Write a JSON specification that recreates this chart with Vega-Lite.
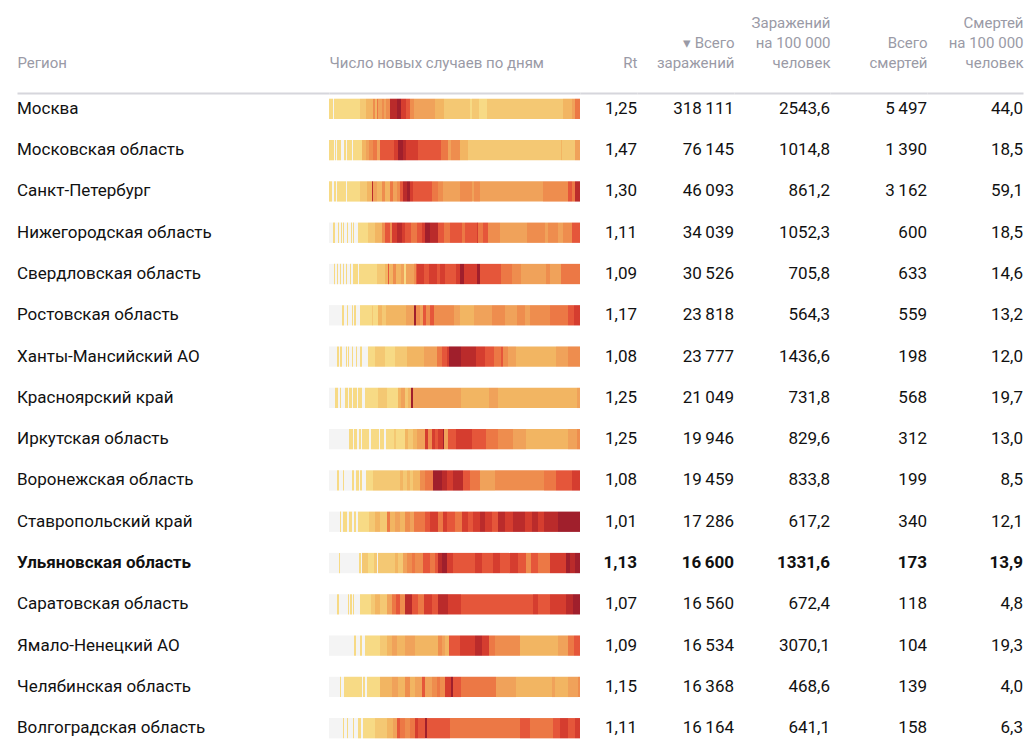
{
  "$schema": "https://vega.github.io/schema/vega-lite/v6.json",
  "background": "white",
  "padding": {"left": 17, "top": 15, "right": 7, "bottom": 0},
  "spacing": 0,
  "bounds": "flush",
  "config": {
    "view": {"stroke": null},
    "locale": {"number": {"decimal": ",", "thousands": "\u2009", "grouping": [3], "currency": ["", ""]}},
    "text": {"font": "Roboto", "fontSize": 17, "color": "#111111", "baseline": "middle"},
    "axis": {"domain": true, "domainColor": "#d6d6dc", "domainWidth": 2, "ticks": false, "labels": false, "grid": false,
      "titleFont": "Roboto", "titleFontSize": 15, "titleFontWeight": "normal", "titleColor": "#9a9aa6", "titleLineHeight": 20, "titlePadding": 23}
  },
  "datasets": {
    "table": [
      {"i": 1, "region": "Москва", "rt": 1.25, "cases": 318111, "cases100k": 2543.6, "deaths": 5497, "deaths100k": 44.0},
      {"i": 2, "region": "Московская область", "rt": 1.47, "cases": 76145, "cases100k": 1014.8, "deaths": 1390, "deaths100k": 18.5},
      {"i": 3, "region": "Санкт-Петербург", "rt": 1.30, "cases": 46093, "cases100k": 861.2, "deaths": 3162, "deaths100k": 59.1},
      {"i": 4, "region": "Нижегородская область", "rt": 1.11, "cases": 34039, "cases100k": 1052.3, "deaths": 600, "deaths100k": 18.5},
      {"i": 5, "region": "Свердловская область", "rt": 1.09, "cases": 30526, "cases100k": 705.8, "deaths": 633, "deaths100k": 14.6},
      {"i": 6, "region": "Ростовская область", "rt": 1.17, "cases": 23818, "cases100k": 564.3, "deaths": 559, "deaths100k": 13.2},
      {"i": 7, "region": "Ханты-Мансийский АО", "rt": 1.08, "cases": 23777, "cases100k": 1436.6, "deaths": 198, "deaths100k": 12.0},
      {"i": 8, "region": "Красноярский край", "rt": 1.25, "cases": 21049, "cases100k": 731.8, "deaths": 568, "deaths100k": 19.7},
      {"i": 9, "region": "Иркутская область", "rt": 1.25, "cases": 19946, "cases100k": 829.6, "deaths": 312, "deaths100k": 13.0},
      {"i": 10, "region": "Воронежская область", "rt": 1.08, "cases": 19459, "cases100k": 833.8, "deaths": 199, "deaths100k": 8.5},
      {"i": 11, "region": "Ставропольский край", "rt": 1.01, "cases": 17286, "cases100k": 617.2, "deaths": 340, "deaths100k": 12.1},
      {"i": 12, "region": "Ульяновская область", "rt": 1.13, "cases": 16600, "cases100k": 1331.6, "deaths": 173, "deaths100k": 13.9},
      {"i": 13, "region": "Саратовская область", "rt": 1.07, "cases": 16560, "cases100k": 672.4, "deaths": 118, "deaths100k": 4.8},
      {"i": 14, "region": "Ямало-Ненецкий АО", "rt": 1.09, "cases": 16534, "cases100k": 3070.1, "deaths": 104, "deaths100k": 19.3},
      {"i": 15, "region": "Челябинская область", "rt": 1.15, "cases": 16368, "cases100k": 468.6, "deaths": 139, "deaths100k": 4.0},
      {"i": 16, "region": "Волгоградская область", "rt": 1.11, "cases": 16164, "cases100k": 641.1, "deaths": 158, "deaths100k": 6.3}
    ],
    "strips": [
      {"i":1,"s":0,"e":4,"v":1},{"i":1,"s":4,"e":5,"v":0},{"i":1,"s":5,"e":31,"v":1},{"i":1,"s":31,"e":37,"v":2},{"i":1,"s":37,"e":44,"v":3},{"i":1,"s":44,"e":46,"v":5},{"i":1,"s":46,"e":48,"v":3},{"i":1,"s":48,"e":49,"v":6},{"i":1,"s":49,"e":53,"v":4},{"i":1,"s":53,"e":55,"v":5},{"i":1,"s":55,"e":57,"v":4},{"i":1,"s":57,"e":61,"v":5},{"i":1,"s":61,"e":68,"v":9},{"i":1,"s":68,"e":72,"v":10},{"i":1,"s":72,"e":77,"v":8},{"i":1,"s":77,"e":81,"v":7},{"i":1,"s":81,"e":85,"v":5},{"i":1,"s":85,"e":106,"v":4},{"i":1,"s":106,"e":115,"v":3},{"i":1,"s":115,"e":141,"v":2},{"i":1,"s":141,"e":143,"v":1},{"i":1,"s":143,"e":150,"v":2},{"i":1,"s":150,"e":158,"v":1},{"i":1,"s":158,"e":234,"v":2},{"i":1,"s":234,"e":243,"v":3},{"i":1,"s":243,"e":246,"v":4},{"i":1,"s":246,"e":251,"v":6},
      {"i":2,"s":0,"e":5,"v":1},{"i":2,"s":5,"e":6,"v":0},{"i":2,"s":6,"e":7,"v":1},{"i":2,"s":7,"e":8,"v":0},{"i":2,"s":8,"e":12,"v":1},{"i":2,"s":12,"e":15,"v":0},{"i":2,"s":15,"e":17,"v":1},{"i":2,"s":17,"e":18,"v":0},{"i":2,"s":18,"e":23,"v":1},{"i":2,"s":23,"e":24,"v":0},{"i":2,"s":24,"e":33,"v":1},{"i":2,"s":33,"e":37,"v":3},{"i":2,"s":37,"e":40,"v":4},{"i":2,"s":40,"e":44,"v":5},{"i":2,"s":44,"e":48,"v":6},{"i":2,"s":48,"e":51,"v":4},{"i":2,"s":51,"e":65,"v":7},{"i":2,"s":65,"e":69,"v":8},{"i":2,"s":69,"e":74,"v":10},{"i":2,"s":74,"e":77,"v":9},{"i":2,"s":77,"e":89,"v":8},{"i":2,"s":89,"e":112,"v":7},{"i":2,"s":112,"e":119,"v":6},{"i":2,"s":119,"e":122,"v":4},{"i":2,"s":122,"e":131,"v":5},{"i":2,"s":131,"e":139,"v":3},{"i":2,"s":139,"e":232,"v":2},{"i":2,"s":232,"e":233,"v":3},{"i":2,"s":233,"e":246,"v":2},{"i":2,"s":246,"e":251,"v":4},
      {"i":3,"s":0,"e":3,"v":1},{"i":3,"s":3,"e":5,"v":0},{"i":3,"s":5,"e":7,"v":1},{"i":3,"s":7,"e":8,"v":0},{"i":3,"s":8,"e":17,"v":1},{"i":3,"s":17,"e":18,"v":0},{"i":3,"s":18,"e":31,"v":1},{"i":3,"s":31,"e":38,"v":2},{"i":3,"s":38,"e":43,"v":3},{"i":3,"s":43,"e":44,"v":9},{"i":3,"s":44,"e":48,"v":4},{"i":3,"s":48,"e":53,"v":3},{"i":3,"s":53,"e":56,"v":5},{"i":3,"s":56,"e":61,"v":3},{"i":3,"s":61,"e":64,"v":6},{"i":3,"s":64,"e":68,"v":4},{"i":3,"s":68,"e":71,"v":5},{"i":3,"s":71,"e":74,"v":7},{"i":3,"s":74,"e":78,"v":9},{"i":3,"s":78,"e":81,"v":10},{"i":3,"s":81,"e":84,"v":8},{"i":3,"s":84,"e":103,"v":7},{"i":3,"s":103,"e":109,"v":6},{"i":3,"s":109,"e":114,"v":5},{"i":3,"s":114,"e":131,"v":4},{"i":3,"s":131,"e":143,"v":5},{"i":3,"s":143,"e":145,"v":4},{"i":3,"s":145,"e":151,"v":5},{"i":3,"s":151,"e":214,"v":4},{"i":3,"s":214,"e":239,"v":5},{"i":3,"s":239,"e":243,"v":7},{"i":3,"s":243,"e":246,"v":6},{"i":3,"s":246,"e":251,"v":9},
      {"i":4,"s":0,"e":4,"v":0},{"i":4,"s":4,"e":6,"v":1},{"i":4,"s":6,"e":9,"v":0},{"i":4,"s":9,"e":10,"v":1},{"i":4,"s":10,"e":12,"v":0},{"i":4,"s":12,"e":13,"v":1},{"i":4,"s":13,"e":14,"v":0},{"i":4,"s":14,"e":15,"v":1},{"i":4,"s":15,"e":18,"v":0},{"i":4,"s":18,"e":19,"v":1},{"i":4,"s":19,"e":22,"v":0},{"i":4,"s":22,"e":23,"v":1},{"i":4,"s":23,"e":24,"v":0},{"i":4,"s":24,"e":25,"v":1},{"i":4,"s":25,"e":29,"v":0},{"i":4,"s":29,"e":39,"v":1},{"i":4,"s":39,"e":46,"v":2},{"i":4,"s":46,"e":53,"v":3},{"i":4,"s":53,"e":56,"v":5},{"i":4,"s":56,"e":61,"v":7},{"i":4,"s":61,"e":63,"v":5},{"i":4,"s":63,"e":68,"v":8},{"i":4,"s":68,"e":73,"v":9},{"i":4,"s":73,"e":76,"v":8},{"i":4,"s":76,"e":82,"v":7},{"i":4,"s":82,"e":88,"v":6},{"i":4,"s":88,"e":93,"v":7},{"i":4,"s":93,"e":96,"v":8},{"i":4,"s":96,"e":101,"v":10},{"i":4,"s":101,"e":109,"v":9},{"i":4,"s":109,"e":115,"v":7},{"i":4,"s":115,"e":121,"v":6},{"i":4,"s":121,"e":133,"v":7},{"i":4,"s":133,"e":136,"v":6},{"i":4,"s":136,"e":148,"v":7},{"i":4,"s":148,"e":149,"v":8},{"i":4,"s":149,"e":154,"v":6},{"i":4,"s":154,"e":159,"v":7},{"i":4,"s":159,"e":171,"v":5},{"i":4,"s":171,"e":198,"v":4},{"i":4,"s":198,"e":216,"v":5},{"i":4,"s":216,"e":219,"v":4},{"i":4,"s":219,"e":229,"v":5},{"i":4,"s":229,"e":234,"v":4},{"i":4,"s":234,"e":243,"v":5},{"i":4,"s":243,"e":251,"v":7},
      {"i":5,"s":0,"e":5,"v":0},{"i":5,"s":5,"e":6,"v":1},{"i":5,"s":6,"e":8,"v":0},{"i":5,"s":8,"e":9,"v":1},{"i":5,"s":9,"e":11,"v":0},{"i":5,"s":11,"e":12,"v":1},{"i":5,"s":12,"e":14,"v":0},{"i":5,"s":14,"e":15,"v":1},{"i":5,"s":15,"e":17,"v":0},{"i":5,"s":17,"e":18,"v":1},{"i":5,"s":18,"e":21,"v":0},{"i":5,"s":21,"e":22,"v":1},{"i":5,"s":22,"e":24,"v":0},{"i":5,"s":24,"e":29,"v":1},{"i":5,"s":29,"e":30,"v":0},{"i":5,"s":30,"e":48,"v":1},{"i":5,"s":48,"e":56,"v":2},{"i":5,"s":56,"e":59,"v":3},{"i":5,"s":59,"e":60,"v":7},{"i":5,"s":60,"e":64,"v":3},{"i":5,"s":64,"e":67,"v":5},{"i":5,"s":67,"e":72,"v":3},{"i":5,"s":72,"e":75,"v":4},{"i":5,"s":75,"e":77,"v":1},{"i":5,"s":77,"e":85,"v":4},{"i":5,"s":85,"e":87,"v":5},{"i":5,"s":87,"e":88,"v":7},{"i":5,"s":88,"e":95,"v":8},{"i":5,"s":95,"e":100,"v":7},{"i":5,"s":100,"e":108,"v":8},{"i":5,"s":108,"e":111,"v":7},{"i":5,"s":111,"e":116,"v":8},{"i":5,"s":116,"e":127,"v":7},{"i":5,"s":127,"e":131,"v":8},{"i":5,"s":131,"e":135,"v":10},{"i":5,"s":135,"e":148,"v":8},{"i":5,"s":148,"e":151,"v":10},{"i":5,"s":151,"e":172,"v":7},{"i":5,"s":172,"e":183,"v":6},{"i":5,"s":183,"e":192,"v":5},{"i":5,"s":192,"e":217,"v":4},{"i":5,"s":217,"e":221,"v":5},{"i":5,"s":221,"e":232,"v":4},{"i":5,"s":232,"e":251,"v":6},
      {"i":6,"s":0,"e":13,"v":0},{"i":6,"s":13,"e":15,"v":1},{"i":6,"s":15,"e":18,"v":0},{"i":6,"s":18,"e":19,"v":1},{"i":6,"s":19,"e":23,"v":0},{"i":6,"s":23,"e":24,"v":1},{"i":6,"s":24,"e":25,"v":0},{"i":6,"s":25,"e":27,"v":1},{"i":6,"s":27,"e":31,"v":0},{"i":6,"s":31,"e":43,"v":1},{"i":6,"s":43,"e":44,"v":2},{"i":6,"s":44,"e":49,"v":1},{"i":6,"s":49,"e":53,"v":3},{"i":6,"s":53,"e":57,"v":2},{"i":6,"s":57,"e":77,"v":3},{"i":6,"s":77,"e":85,"v":4},{"i":6,"s":85,"e":87,"v":10},{"i":6,"s":87,"e":91,"v":5},{"i":6,"s":91,"e":94,"v":4},{"i":6,"s":94,"e":97,"v":7},{"i":6,"s":97,"e":101,"v":5},{"i":6,"s":101,"e":105,"v":7},{"i":6,"s":105,"e":113,"v":5},{"i":6,"s":113,"e":125,"v":5},{"i":6,"s":125,"e":131,"v":4},{"i":6,"s":131,"e":145,"v":3},{"i":6,"s":145,"e":163,"v":4},{"i":6,"s":163,"e":176,"v":5},{"i":6,"s":176,"e":188,"v":4},{"i":6,"s":188,"e":196,"v":5},{"i":6,"s":196,"e":201,"v":4},{"i":6,"s":201,"e":221,"v":5},{"i":6,"s":221,"e":239,"v":6},{"i":6,"s":239,"e":245,"v":7},{"i":6,"s":245,"e":251,"v":8},
      {"i":7,"s":0,"e":8,"v":0},{"i":7,"s":8,"e":10,"v":1},{"i":7,"s":10,"e":11,"v":0},{"i":7,"s":11,"e":13,"v":1},{"i":7,"s":13,"e":17,"v":0},{"i":7,"s":17,"e":18,"v":1},{"i":7,"s":18,"e":19,"v":0},{"i":7,"s":19,"e":20,"v":1},{"i":7,"s":20,"e":23,"v":0},{"i":7,"s":23,"e":24,"v":1},{"i":7,"s":24,"e":27,"v":0},{"i":7,"s":27,"e":28,"v":1},{"i":7,"s":28,"e":31,"v":0},{"i":7,"s":31,"e":33,"v":1},{"i":7,"s":33,"e":39,"v":0},{"i":7,"s":39,"e":46,"v":1},{"i":7,"s":46,"e":56,"v":2},{"i":7,"s":56,"e":66,"v":1},{"i":7,"s":66,"e":78,"v":2},{"i":7,"s":78,"e":95,"v":3},{"i":7,"s":95,"e":108,"v":4},{"i":7,"s":108,"e":113,"v":6},{"i":7,"s":113,"e":118,"v":7},{"i":7,"s":118,"e":120,"v":8},{"i":7,"s":120,"e":132,"v":10},{"i":7,"s":132,"e":147,"v":9},{"i":7,"s":147,"e":156,"v":8},{"i":7,"s":156,"e":165,"v":7},{"i":7,"s":165,"e":172,"v":6},{"i":7,"s":172,"e":174,"v":7},{"i":7,"s":174,"e":179,"v":5},{"i":7,"s":179,"e":187,"v":4},{"i":7,"s":187,"e":227,"v":3},{"i":7,"s":227,"e":239,"v":4},{"i":7,"s":239,"e":251,"v":5},
      {"i":8,"s":0,"e":6,"v":0},{"i":8,"s":6,"e":9,"v":1},{"i":8,"s":9,"e":11,"v":0},{"i":8,"s":11,"e":12,"v":1},{"i":8,"s":12,"e":16,"v":0},{"i":8,"s":16,"e":19,"v":1},{"i":8,"s":19,"e":20,"v":0},{"i":8,"s":20,"e":23,"v":1},{"i":8,"s":23,"e":24,"v":0},{"i":8,"s":24,"e":28,"v":1},{"i":8,"s":28,"e":29,"v":0},{"i":8,"s":29,"e":33,"v":1},{"i":8,"s":33,"e":36,"v":0},{"i":8,"s":36,"e":49,"v":1},{"i":8,"s":49,"e":58,"v":2},{"i":8,"s":58,"e":69,"v":1},{"i":8,"s":69,"e":72,"v":3},{"i":8,"s":72,"e":76,"v":4},{"i":8,"s":76,"e":79,"v":2},{"i":8,"s":79,"e":82,"v":3},{"i":8,"s":82,"e":84,"v":10},{"i":8,"s":84,"e":132,"v":4},{"i":8,"s":132,"e":160,"v":3},{"i":8,"s":160,"e":169,"v":4},{"i":8,"s":169,"e":248,"v":3},{"i":8,"s":248,"e":251,"v":4},
      {"i":9,"s":0,"e":20,"v":0},{"i":9,"s":20,"e":24,"v":1},{"i":9,"s":24,"e":25,"v":0},{"i":9,"s":25,"e":28,"v":1},{"i":9,"s":28,"e":30,"v":0},{"i":9,"s":30,"e":32,"v":1},{"i":9,"s":32,"e":33,"v":0},{"i":9,"s":33,"e":40,"v":1},{"i":9,"s":40,"e":42,"v":0},{"i":9,"s":42,"e":50,"v":1},{"i":9,"s":50,"e":51,"v":0},{"i":9,"s":51,"e":55,"v":1},{"i":9,"s":55,"e":57,"v":0},{"i":9,"s":57,"e":65,"v":1},{"i":9,"s":65,"e":67,"v":2},{"i":9,"s":67,"e":76,"v":1},{"i":9,"s":76,"e":79,"v":3},{"i":9,"s":79,"e":84,"v":2},{"i":9,"s":84,"e":88,"v":3},{"i":9,"s":88,"e":96,"v":4},{"i":9,"s":96,"e":99,"v":8},{"i":9,"s":99,"e":103,"v":5},{"i":9,"s":103,"e":106,"v":8},{"i":9,"s":106,"e":109,"v":7},{"i":9,"s":109,"e":114,"v":8},{"i":9,"s":114,"e":115,"v":10},{"i":9,"s":115,"e":119,"v":4},{"i":9,"s":119,"e":127,"v":7},{"i":9,"s":127,"e":143,"v":8},{"i":9,"s":143,"e":157,"v":7},{"i":9,"s":157,"e":169,"v":6},{"i":9,"s":169,"e":184,"v":5},{"i":9,"s":184,"e":197,"v":4},{"i":9,"s":197,"e":239,"v":3},{"i":9,"s":239,"e":248,"v":4},{"i":9,"s":248,"e":251,"v":5},
      {"i":10,"s":0,"e":8,"v":0},{"i":10,"s":8,"e":10,"v":1},{"i":10,"s":10,"e":14,"v":0},{"i":10,"s":14,"e":15,"v":1},{"i":10,"s":15,"e":23,"v":0},{"i":10,"s":23,"e":25,"v":1},{"i":10,"s":25,"e":27,"v":0},{"i":10,"s":27,"e":30,"v":1},{"i":10,"s":30,"e":31,"v":0},{"i":10,"s":31,"e":33,"v":1},{"i":10,"s":33,"e":37,"v":0},{"i":10,"s":37,"e":44,"v":1},{"i":10,"s":44,"e":71,"v":2},{"i":10,"s":71,"e":74,"v":3},{"i":10,"s":74,"e":78,"v":2},{"i":10,"s":78,"e":81,"v":3},{"i":10,"s":81,"e":84,"v":2},{"i":10,"s":84,"e":91,"v":3},{"i":10,"s":91,"e":96,"v":5},{"i":10,"s":96,"e":104,"v":6},{"i":10,"s":104,"e":113,"v":10},{"i":10,"s":113,"e":118,"v":9},{"i":10,"s":118,"e":124,"v":8},{"i":10,"s":124,"e":134,"v":9},{"i":10,"s":134,"e":141,"v":7},{"i":10,"s":141,"e":151,"v":6},{"i":10,"s":151,"e":166,"v":4},{"i":10,"s":166,"e":215,"v":5},{"i":10,"s":215,"e":227,"v":6},{"i":10,"s":227,"e":243,"v":7},{"i":10,"s":243,"e":251,"v":8},
      {"i":11,"s":0,"e":11,"v":0},{"i":11,"s":11,"e":12,"v":1},{"i":11,"s":12,"e":14,"v":0},{"i":11,"s":14,"e":18,"v":1},{"i":11,"s":18,"e":20,"v":0},{"i":11,"s":20,"e":23,"v":1},{"i":11,"s":23,"e":25,"v":0},{"i":11,"s":25,"e":27,"v":1},{"i":11,"s":27,"e":29,"v":0},{"i":11,"s":29,"e":40,"v":1},{"i":11,"s":40,"e":46,"v":2},{"i":11,"s":46,"e":51,"v":3},{"i":11,"s":51,"e":58,"v":2},{"i":11,"s":58,"e":61,"v":6},{"i":11,"s":61,"e":66,"v":3},{"i":11,"s":66,"e":71,"v":4},{"i":11,"s":71,"e":76,"v":3},{"i":11,"s":76,"e":81,"v":5},{"i":11,"s":81,"e":85,"v":4},{"i":11,"s":85,"e":96,"v":6},{"i":11,"s":96,"e":101,"v":7},{"i":11,"s":101,"e":109,"v":8},{"i":11,"s":109,"e":114,"v":6},{"i":11,"s":114,"e":118,"v":8},{"i":11,"s":118,"e":126,"v":7},{"i":11,"s":126,"e":133,"v":6},{"i":11,"s":133,"e":139,"v":8},{"i":11,"s":139,"e":144,"v":7},{"i":11,"s":144,"e":151,"v":8},{"i":11,"s":151,"e":156,"v":9},{"i":11,"s":156,"e":163,"v":8},{"i":11,"s":163,"e":169,"v":7},{"i":11,"s":169,"e":176,"v":9},{"i":11,"s":176,"e":184,"v":8},{"i":11,"s":184,"e":196,"v":9},{"i":11,"s":196,"e":203,"v":8},{"i":11,"s":203,"e":209,"v":9},{"i":11,"s":209,"e":215,"v":8},{"i":11,"s":215,"e":229,"v":9},{"i":11,"s":229,"e":251,"v":10},
      {"i":12,"s":0,"e":10,"v":0},{"i":12,"s":10,"e":11,"v":1},{"i":12,"s":11,"e":30,"v":0},{"i":12,"s":30,"e":32,"v":1},{"i":12,"s":32,"e":33,"v":0},{"i":12,"s":33,"e":39,"v":2},{"i":12,"s":39,"e":45,"v":1},{"i":12,"s":45,"e":48,"v":2},{"i":12,"s":48,"e":49,"v":0},{"i":12,"s":49,"e":66,"v":2},{"i":12,"s":66,"e":69,"v":3},{"i":12,"s":69,"e":74,"v":2},{"i":12,"s":74,"e":78,"v":4},{"i":12,"s":78,"e":83,"v":5},{"i":12,"s":83,"e":86,"v":6},{"i":12,"s":86,"e":94,"v":5},{"i":12,"s":94,"e":101,"v":7},{"i":12,"s":101,"e":106,"v":6},{"i":12,"s":106,"e":109,"v":7},{"i":12,"s":109,"e":113,"v":9},{"i":12,"s":113,"e":118,"v":10},{"i":12,"s":118,"e":124,"v":8},{"i":12,"s":124,"e":146,"v":7},{"i":12,"s":146,"e":153,"v":8},{"i":12,"s":153,"e":164,"v":7},{"i":12,"s":164,"e":171,"v":8},{"i":12,"s":171,"e":181,"v":7},{"i":12,"s":181,"e":189,"v":8},{"i":12,"s":189,"e":197,"v":7},{"i":12,"s":197,"e":202,"v":5},{"i":12,"s":202,"e":209,"v":7},{"i":12,"s":209,"e":221,"v":6},{"i":12,"s":221,"e":237,"v":8},{"i":12,"s":237,"e":241,"v":10},{"i":12,"s":241,"e":246,"v":9},{"i":12,"s":246,"e":251,"v":10},
      {"i":13,"s":0,"e":8,"v":0},{"i":13,"s":8,"e":10,"v":1},{"i":13,"s":10,"e":19,"v":0},{"i":13,"s":19,"e":20,"v":1},{"i":13,"s":20,"e":21,"v":0},{"i":13,"s":21,"e":23,"v":1},{"i":13,"s":23,"e":24,"v":0},{"i":13,"s":24,"e":25,"v":1},{"i":13,"s":25,"e":31,"v":0},{"i":13,"s":31,"e":42,"v":1},{"i":13,"s":42,"e":46,"v":2},{"i":13,"s":46,"e":51,"v":3},{"i":13,"s":51,"e":58,"v":2},{"i":13,"s":58,"e":63,"v":4},{"i":13,"s":63,"e":67,"v":6},{"i":13,"s":67,"e":71,"v":7},{"i":13,"s":71,"e":76,"v":5},{"i":13,"s":76,"e":83,"v":9},{"i":13,"s":83,"e":89,"v":7},{"i":13,"s":89,"e":95,"v":6},{"i":13,"s":95,"e":103,"v":8},{"i":13,"s":103,"e":109,"v":7},{"i":13,"s":109,"e":119,"v":9},{"i":13,"s":119,"e":132,"v":8},{"i":13,"s":132,"e":204,"v":7},{"i":13,"s":204,"e":209,"v":8},{"i":13,"s":209,"e":221,"v":7},{"i":13,"s":221,"e":237,"v":8},{"i":13,"s":237,"e":244,"v":9},{"i":13,"s":244,"e":251,"v":10},
      {"i":14,"s":0,"e":25,"v":0},{"i":14,"s":25,"e":27,"v":1},{"i":14,"s":27,"e":31,"v":0},{"i":14,"s":31,"e":33,"v":1},{"i":14,"s":33,"e":36,"v":0},{"i":14,"s":36,"e":51,"v":1},{"i":14,"s":51,"e":58,"v":2},{"i":14,"s":58,"e":63,"v":3},{"i":14,"s":63,"e":68,"v":4},{"i":14,"s":68,"e":76,"v":3},{"i":14,"s":76,"e":86,"v":4},{"i":14,"s":86,"e":109,"v":3},{"i":14,"s":109,"e":113,"v":5},{"i":14,"s":113,"e":116,"v":4},{"i":14,"s":116,"e":120,"v":3},{"i":14,"s":120,"e":131,"v":7},{"i":14,"s":131,"e":146,"v":8},{"i":14,"s":146,"e":153,"v":9},{"i":14,"s":153,"e":160,"v":8},{"i":14,"s":160,"e":166,"v":6},{"i":14,"s":166,"e":191,"v":5},{"i":14,"s":191,"e":229,"v":3},{"i":14,"s":229,"e":239,"v":4},{"i":14,"s":239,"e":245,"v":6},{"i":14,"s":245,"e":251,"v":7},
      {"i":15,"s":0,"e":11,"v":0},{"i":15,"s":11,"e":12,"v":1},{"i":15,"s":12,"e":15,"v":0},{"i":15,"s":15,"e":33,"v":1},{"i":15,"s":33,"e":34,"v":0},{"i":15,"s":34,"e":36,"v":1},{"i":15,"s":36,"e":38,"v":0},{"i":15,"s":38,"e":51,"v":1},{"i":15,"s":51,"e":63,"v":3},{"i":15,"s":63,"e":69,"v":4},{"i":15,"s":69,"e":76,"v":3},{"i":15,"s":76,"e":81,"v":5},{"i":15,"s":81,"e":86,"v":3},{"i":15,"s":86,"e":93,"v":4},{"i":15,"s":93,"e":96,"v":7},{"i":15,"s":96,"e":103,"v":4},{"i":15,"s":103,"e":108,"v":5},{"i":15,"s":108,"e":111,"v":6},{"i":15,"s":111,"e":116,"v":5},{"i":15,"s":116,"e":122,"v":8},{"i":15,"s":122,"e":124,"v":10},{"i":15,"s":124,"e":132,"v":7},{"i":15,"s":132,"e":167,"v":6},{"i":15,"s":167,"e":187,"v":4},{"i":15,"s":187,"e":223,"v":3},{"i":15,"s":223,"e":226,"v":4},{"i":15,"s":226,"e":239,"v":3},{"i":15,"s":239,"e":249,"v":4},{"i":15,"s":249,"e":251,"v":5},
      {"i":16,"s":0,"e":14,"v":0},{"i":16,"s":14,"e":15,"v":1},{"i":16,"s":15,"e":18,"v":0},{"i":16,"s":18,"e":19,"v":1},{"i":16,"s":19,"e":24,"v":0},{"i":16,"s":24,"e":25,"v":1},{"i":16,"s":25,"e":29,"v":0},{"i":16,"s":29,"e":32,"v":1},{"i":16,"s":32,"e":34,"v":0},{"i":16,"s":34,"e":46,"v":1},{"i":16,"s":46,"e":58,"v":2},{"i":16,"s":58,"e":64,"v":3},{"i":16,"s":64,"e":68,"v":4},{"i":16,"s":68,"e":71,"v":7},{"i":16,"s":71,"e":76,"v":6},{"i":16,"s":76,"e":81,"v":5},{"i":16,"s":81,"e":86,"v":6},{"i":16,"s":86,"e":89,"v":8},{"i":16,"s":89,"e":96,"v":7},{"i":16,"s":96,"e":98,"v":10},{"i":16,"s":98,"e":121,"v":7},{"i":16,"s":121,"e":191,"v":6},{"i":16,"s":191,"e":201,"v":7},{"i":16,"s":201,"e":224,"v":6},{"i":16,"s":224,"e":231,"v":7},{"i":16,"s":231,"e":239,"v":8},{"i":16,"s":239,"e":246,"v":7},{"i":16,"s":246,"e":251,"v":8}
    ]
  },
  "hconcat": [
    {
      "width": 312, "height": {"step": 41.29},
      "data": {"name": "table"},
      "encoding": {
        "y": {"field": "i", "type": "ordinal", "axis": null, "scale": {"type": "band", "paddingInner": 0.508, "paddingOuter": 0.138}},
        "x": {"datum": 0, "type": "quantitative", "scale": {"domain": [0, 1]}, "axis": {"orient": "top", "title": "Регион", "titleAnchor": "start"}},
        "text": {"field": "region"}
      },
      "layer": [
        {"transform": [{"filter": "datum.region !== 'Ульяновская область'"}], "mark": {"type": "text", "align": "left"}},
        {"transform": [{"filter": "datum.region === 'Ульяновская область'"}], "mark": {"type": "text", "align": "left", "fontWeight": "bold"}}
      ]
    },
    {
      "width": 251, "height": {"step": 41.29},
      "data": {"name": "strips"},
      "mark": {"type": "rect"},
      "encoding": {
        "y": {"field": "i", "type": "ordinal", "axis": null, "scale": {"type": "band", "paddingInner": 0.508, "paddingOuter": 0.138}},
        "x": {"field": "s", "type": "quantitative", "scale": {"domain": [0, 251], "nice": false, "zero": false}, "axis": {"orient": "top", "title": "Число новых случаев по дням", "titleAnchor": "start"}},
        "x2": {"field": "e"},
        "color": {"field": "v", "type": "ordinal", "legend": null,
          "scale": {"domain": [0,1,2,3,4,5,6,7,8,9,10], "range": ["#f4f4f4","#f7da85","#f4c873","#f2b562","#f0a25a","#ee8d4e","#ec7845","#e5563a","#d53d2f","#ba2b2b","#a01f2c"]}}
      }
    },
    {
      "width": 57, "height": {"step": 41.29},
      "data": {"name": "table"},
      "encoding": {
        "y": {"field": "i", "type": "ordinal", "axis": null, "scale": {"type": "band", "paddingInner": 0.508, "paddingOuter": 0.138}},
        "x": {"datum": 1, "type": "quantitative", "scale": {"domain": [0, 1]}, "axis": {"orient": "top", "title": "Rt", "titleAnchor": "end"}},
        "text": {"field": "rt", "format": ".2f"}
      },
      "layer": [
        {"transform": [{"filter": "datum.region !== 'Ульяновская область'"}], "mark": {"type": "text", "align": "right"}},
        {"transform": [{"filter": "datum.region === 'Ульяновская область'"}], "mark": {"type": "text", "align": "right", "fontWeight": "bold"}}
      ]
    },
    {
      "width": 97, "height": {"step": 41.29},
      "data": {"name": "table"},
      "encoding": {
        "y": {"field": "i", "type": "ordinal", "axis": null, "scale": {"type": "band", "paddingInner": 0.508, "paddingOuter": 0.138}},
        "x": {"datum": 1, "type": "quantitative", "scale": {"domain": [0, 1]}, "axis": {"orient": "top", "title": ["▾ Всего", "заражений"], "titleAnchor": "end"}},
        "text": {"field": "cases", "format": ",d"}
      },
      "layer": [
        {"transform": [{"filter": "datum.region !== 'Ульяновская область'"}], "mark": {"type": "text", "align": "right"}},
        {"transform": [{"filter": "datum.region === 'Ульяновская область'"}], "mark": {"type": "text", "align": "right", "fontWeight": "bold"}}
      ]
    },
    {
      "width": 96, "height": {"step": 41.29},
      "data": {"name": "table"},
      "encoding": {
        "y": {"field": "i", "type": "ordinal", "axis": null, "scale": {"type": "band", "paddingInner": 0.508, "paddingOuter": 0.138}},
        "x": {"datum": 1, "type": "quantitative", "scale": {"domain": [0, 1]}, "axis": {"orient": "top", "title": ["Заражений", "на 100 000", "человек"], "titleAnchor": "end"}},
        "text": {"field": "cases100k", "format": ".1f"}
      },
      "layer": [
        {"transform": [{"filter": "datum.region !== 'Ульяновская область'"}], "mark": {"type": "text", "align": "right"}},
        {"transform": [{"filter": "datum.region === 'Ульяновская область'"}], "mark": {"type": "text", "align": "right", "fontWeight": "bold"}}
      ]
    },
    {
      "width": 97, "height": {"step": 41.29},
      "data": {"name": "table"},
      "encoding": {
        "y": {"field": "i", "type": "ordinal", "axis": null, "scale": {"type": "band", "paddingInner": 0.508, "paddingOuter": 0.138}},
        "x": {"datum": 1, "type": "quantitative", "scale": {"domain": [0, 1]}, "axis": {"orient": "top", "title": ["Всего", "смертей"], "titleAnchor": "end"}},
        "text": {"field": "deaths", "format": ",d"}
      },
      "layer": [
        {"transform": [{"filter": "datum.region !== 'Ульяновская область'"}], "mark": {"type": "text", "align": "right"}},
        {"transform": [{"filter": "datum.region === 'Ульяновская область'"}], "mark": {"type": "text", "align": "right", "fontWeight": "bold"}}
      ]
    },
    {
      "width": 96, "height": {"step": 41.29},
      "data": {"name": "table"},
      "encoding": {
        "y": {"field": "i", "type": "ordinal", "axis": null, "scale": {"type": "band", "paddingInner": 0.508, "paddingOuter": 0.138}},
        "x": {"datum": 1, "type": "quantitative", "scale": {"domain": [0, 1]}, "axis": {"orient": "top", "title": ["Смертей", "на 100 000", "человек"], "titleAnchor": "end"}},
        "text": {"field": "deaths100k", "format": ".1f"}
      },
      "layer": [
        {"transform": [{"filter": "datum.region !== 'Ульяновская область'"}], "mark": {"type": "text", "align": "right"}},
        {"transform": [{"filter": "datum.region === 'Ульяновская область'"}], "mark": {"type": "text", "align": "right", "fontWeight": "bold"}}
      ]
    }
  ]
}
